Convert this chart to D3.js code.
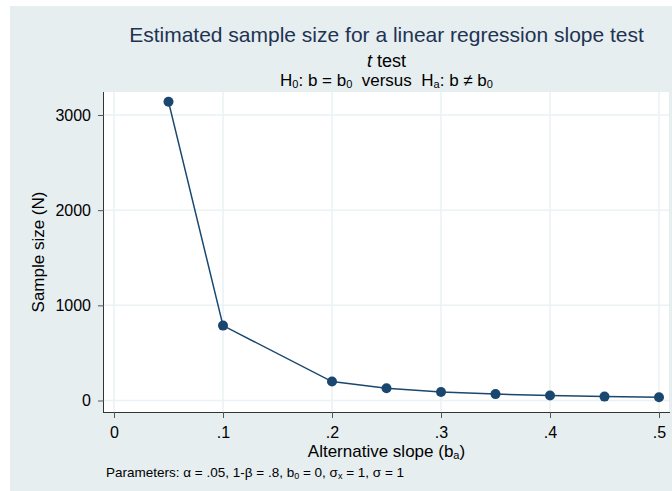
<!doctype html><html><head><meta charset="utf-8">
<style>body{margin:0;background:#fff;} text{font-family:"Liberation Sans",Arial,sans-serif;}</style>
</head><body><script src="https://d3js.org/d3.v7.min.js"></script>
<script>
// data
const slopes  = [0.05, 0.1, 0.2, 0.25, 0.3, 0.35, 0.4, 0.45, 0.5];
const sizes   = [3140, 787, 199, 128, 90, 67, 52, 41, 34];
const xTicks  = [0, 0.1, 0.2, 0.3, 0.4, 0.5];
const xLabels = ["0", ".1", ".2", ".3", ".4", ".5"];
const yTicks  = [0, 1000, 2000, 3000];

const W = 672, H = 491;
const pL = 104, pR = 669, pT = 92, pB = 412;
const navy = "#1a476f", grid = "#eaf2f3", bg = "#e6eef0";

const svg = d3.select("body").append("svg")
  .attr("width", W).attr("height", H);

// graph region
svg.append("rect").attr("x", 10).attr("y", 6)
  .attr("width", W - 10).attr("height", H - 6).attr("fill", bg);
// plot region
svg.append("rect").attr("x", pL).attr("y", pT)
  .attr("width", pR - pL).attr("height", pB - pT).attr("fill", "#fff");

const x = d3.scaleLinear().domain([0, 0.5]).range([114, 659]);
const y = d3.scaleLinear().domain([0, 3000]).range([400.5, 115]);

// grid
svg.append("g").selectAll("line").data(xTicks).join("line")
  .attr("x1", d => x(d)).attr("x2", d => x(d))
  .attr("y1", pT).attr("y2", pB)
  .attr("stroke", grid).attr("stroke-width", 1.5);
svg.append("g").selectAll("line").data(yTicks).join("line")
  .attr("x1", pL).attr("x2", pR)
  .attr("y1", d => y(d)).attr("y2", d => y(d))
  .attr("stroke", grid).attr("stroke-width", 1.5);

// axes
const xAxis = svg.append("g").attr("transform", `translate(0,${pB})`)
  .call(d3.axisBottom(x).tickValues(xTicks).tickFormat((d, i) => xLabels[i])
        .tickSize(6).tickPadding(9).tickSizeOuter(0));
xAxis.select(".domain").attr("d", `M${pL},0.5H${pR + 1}`).attr("stroke", "#333");
const yAxis = svg.append("g").attr("transform", `translate(${pL},0)`)
  .call(d3.axisLeft(y).tickValues(yTicks).tickFormat(d3.format("d"))
        .tickSize(6).tickPadding(7).tickSizeOuter(0));
yAxis.select(".domain").attr("d", `M-0.5,${pT}V${pB + 1}`).attr("stroke", "#333");
svg.selectAll(".tick line").attr("stroke", "#555");
svg.selectAll(".tick text").attr("font-size", 16).attr("fill", "#000")
  .attr("font-family", "'Liberation Sans',Arial,sans-serif");

// line + markers
const pts = slopes.map((s, i) => ({s: s, n: sizes[i]}));
svg.append("path").datum(pts)
  .attr("fill", "none").attr("stroke", navy).attr("stroke-width", 1.5)
  .attr("d", d3.line().x(d => x(d.s)).y(d => y(d.n)));
svg.append("g").selectAll("circle").data(pts).join("circle")
  .attr("cx", d => x(d.s)).attr("cy", d => y(d.n)).attr("r", 5).attr("fill", navy);

// titles
const cx = (pL + pR) / 2;
svg.append("text").attr("x", cx).attr("y", 42).attr("text-anchor", "middle")
  .attr("font-size", 21).attr("fill", "#1f3352")
  .text("Estimated sample size for a linear regression slope test");
const t2 = svg.append("text").attr("x", cx).attr("y", 67).attr("text-anchor", "middle")
  .attr("font-size", 18);
t2.append("tspan").attr("font-style", "italic").text("t");
t2.append("tspan").text(" test");
const t3 = svg.append("text").attr("x", cx).attr("y", 86).attr("text-anchor", "middle")
  .attr("font-size", 17).attr("xml:space", "preserve");
t3.append("tspan").text("H");
t3.append("tspan").attr("font-size", 11).attr("dy", 2).text("0");
t3.append("tspan").attr("dy", -2).text(": b = b");
t3.append("tspan").attr("font-size", 11).attr("dy", 2).text("0");
t3.append("tspan").attr("dy", -2).text("  versus  H");
t3.append("tspan").attr("font-size", 11).attr("dy", 2).text("a");
t3.append("tspan").attr("dy", -2).text(": b \u2260 b");
t3.append("tspan").attr("font-size", 11).attr("dy", 2).text("0");

// axis titles
const xt = svg.append("text").attr("x", cx).attr("y", 457).attr("text-anchor", "middle")
  .attr("font-size", 17);
xt.append("tspan").text("Alternative slope (b");
xt.append("tspan").attr("font-size", 11).attr("dy", 2).text("a");
xt.append("tspan").attr("dy", -2).text(")");

svg.append("text").attr("transform", `translate(44,${(pT + pB) / 2}) rotate(-90)`)
  .attr("text-anchor", "middle").attr("font-size", 17).text("Sample size (N)");

// note
const nt = svg.append("text").attr("x", 106).attr("y", 477).attr("font-size", 13.5);
nt.append("tspan").text("Parameters: \u03b1 = .05, 1-\u03b2 = .8, b");
nt.append("tspan").attr("font-size", 9).attr("dy", 2).text("0");
nt.append("tspan").attr("dy", -2).text(" = 0, \u03c3");
nt.append("tspan").attr("font-size", 9).attr("dy", 2).text("x");
nt.append("tspan").attr("dy", -2).text(" = 1, \u03c3 = 1");
</script></body></html>
